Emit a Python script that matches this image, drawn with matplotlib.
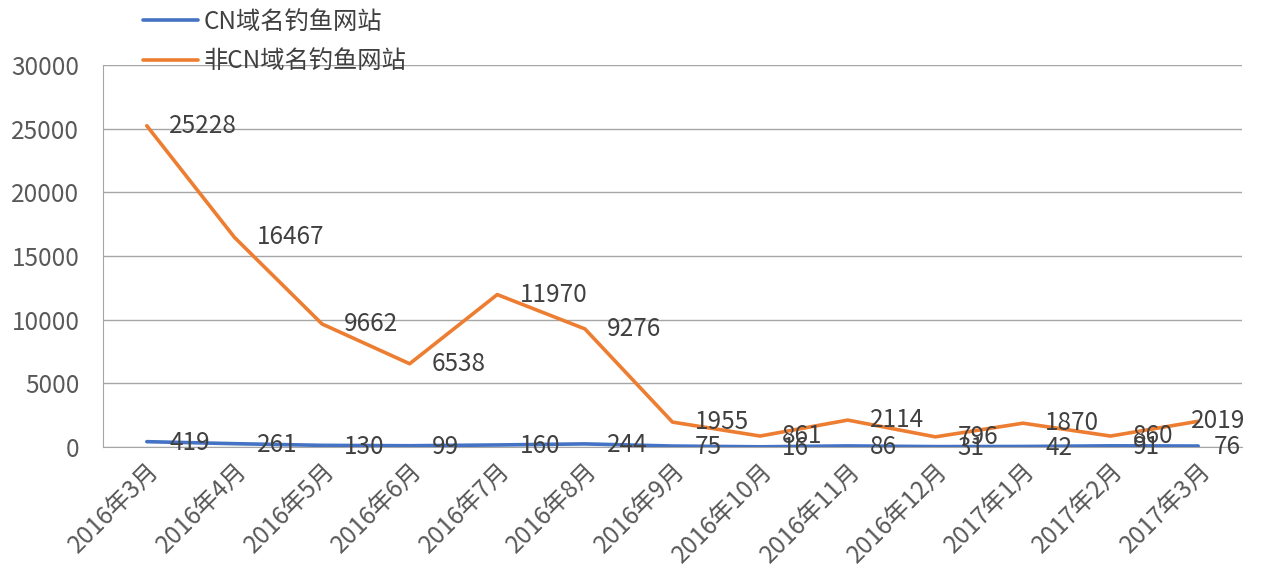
import matplotlib
matplotlib.use("Agg")
import matplotlib.pyplot as plt

plt.rcParams['font.family'] = ['Noto Sans CJK SC', 'DejaVu Sans']

months = ["2016年3月", "2016年4月", "2016年5月", "2016年6月", "2016年7月", "2016年8月",
          "2016年9月", "2016年10月", "2016年11月", "2016年12月", "2017年1月", "2017年2月", "2017年3月"]
cn_sites = [419, 261, 130, 99, 160, 244, 75, 16, 86, 31, 42, 91, 76]
non_cn_sites = [25228, 16467, 9662, 6538, 11970, 9276, 1955, 861, 2114, 796, 1870, 860, 2019]
series_names = ["CN域名钓鱼网站", "非CN域名钓鱼网站"]
yticks = [0, 5000, 10000, 15000, 20000, 25000, 30000]

FS = 17.5
fig = plt.figure(figsize=(12.63, 5.78), dpi=100)
ax = fig.add_axes([103/1263, 1-447/578, (1242-103)/1263, (447-65)/578])

x = list(range(len(months)))
blue = "#4472C4"
orange = "#ED7D31"
l1, = ax.plot(x, cn_sites, color=blue, lw=2.6, solid_capstyle='round', zorder=3)
l2, = ax.plot(x, non_cn_sites, color=orange, lw=2.6, solid_capstyle='round', zorder=3)

n = len(x)
for i, (xi, v) in enumerate(zip(x, cn_sites)):
    dx = 16 if i < n - 1 else 11
    ax.annotate(str(v), (xi, v), xytext=(dx, -1), textcoords='offset points',
                ha='left', va='center', fontsize=FS, color='#404040', zorder=4)
for i, (xi, v) in enumerate(zip(x, non_cn_sites)):
    dx = 16 if i < n - 1 else -5
    ax.annotate(str(v), (xi, v), xytext=(dx, 0), textcoords='offset points',
                ha='left', va='center', fontsize=FS, color='#404040', zorder=4)

ax.set_xlim(-0.5, len(months) - 0.5)
ax.set_ylim(0, 30000)
ax.set_yticks(yticks)
ax.set_yticklabels([str(t) for t in yticks], fontsize=FS, color='#595959')
ax.set_xticks(x)
ax.set_xticklabels(months, rotation=45, ha='right', va='top', rotation_mode='anchor',
                   fontsize=FS, color='#595959')
ax.tick_params(axis='y', length=0, pad=17)
ax.tick_params(axis='x', length=0, pad=8)
ax.yaxis.grid(True, color='#A6A6A6', lw=1)
ax.set_axisbelow(True)
for s in ['top', 'right']:
    ax.spines[s].set_visible(False)
ax.spines['left'].set_color('#A6A6A6')
ax.spines['bottom'].set_color('#A6A6A6')

fig.legend([l1, l2], series_names, loc='upper left', bbox_to_anchor=(128/1263, 1.01),
           frameon=False, fontsize=FS, labelcolor='#404040', handlelength=2.3,
           handletextpad=0.2, labelspacing=0.55, borderaxespad=0.2)

fig.savefig("out.png", dpi=100)
